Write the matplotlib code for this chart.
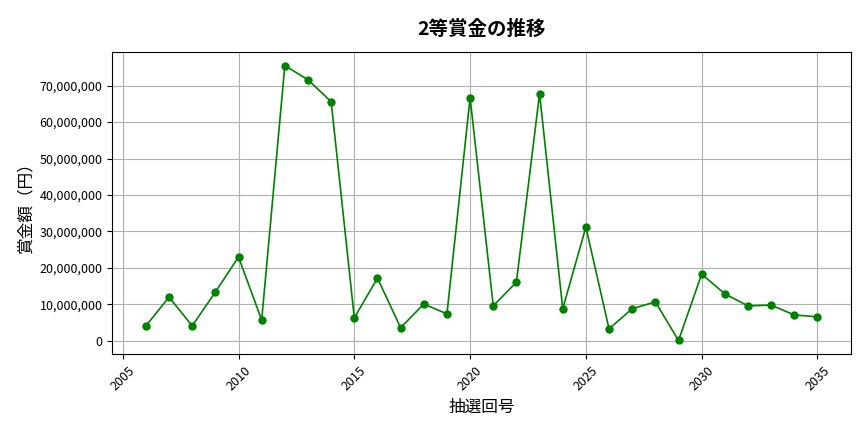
import matplotlib
matplotlib.use("Agg")
import matplotlib.pyplot as plt
from matplotlib.ticker import FuncFormatter

plt.rcParams['font.family'] = ['Noto Sans CJK JP', 'DejaVu Sans']

draws = list(range(2006, 2036))
prizes = [4.1, 12.0, 4.1, 13.4, 23.0, 5.7, 75.5, 71.6, 65.6, 6.3,
          17.2, 3.6, 10.1, 7.4, 66.7, 9.6, 16.1, 67.8, 8.8, 31.2,
          3.3, 8.8, 10.7, 0.1, 18.3, 12.9, 9.6, 9.8, 7.1, 6.6]
prizes = [v * 1e6 for v in prizes]

fig, ax = plt.subplots(figsize=(8.64, 4.32), dpi=100)
ax.plot(draws, prizes, color='green', marker='o', markersize=5, linewidth=1.2)
ax.set_title('2等賞金の推移', fontsize=14, fontweight='bold', pad=12)
ax.set_xlabel('抽選回号', fontsize=12)
ax.set_ylabel('賞金額（円）', fontsize=12)
ax.yaxis.set_major_formatter(FuncFormatter(lambda v, p: f'{int(v):,}'))
ax.grid(True, color='#b0b0b0', linewidth=0.8)
ax.set_xticks(range(2005, 2040, 5))
plt.setp(ax.get_xticklabels(), rotation=45)
ax.tick_params(labelsize=9)
fig.subplots_adjust(left=0.13, right=0.985, top=0.88, bottom=0.18)
fig.savefig('out.png')
